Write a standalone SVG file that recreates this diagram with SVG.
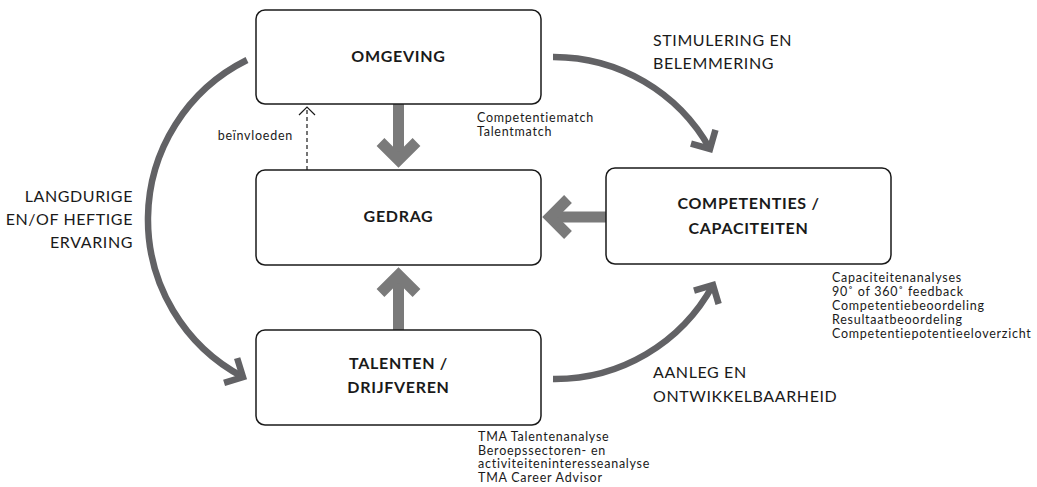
<svg xmlns="http://www.w3.org/2000/svg" width="1037" height="487" viewBox="0 0 1037 487">
<style>
.box{fill:#fff;stroke:#1a1a1a;stroke-width:1.5}
.lbl{font-family:Lato,"Open Sans",sans-serif;font-weight:bold;font-size:16px;fill:#1a1a1a;text-anchor:middle;letter-spacing:0.7px}
.big{font-family:Lato,"Open Sans",sans-serif;font-size:16px;fill:#1a1a1a;letter-spacing:0.6px}
.sm{font-family:Lato,"Open Sans",sans-serif;font-size:12.5px;fill:#1a1a1a;letter-spacing:0.75px}
.thick{fill:none;stroke:#7a7a7a;stroke-width:11}
.chev{fill:none;stroke:#7a7a7a;stroke-width:11;stroke-linejoin:miter}
.arc{fill:none;stroke:#626265;stroke-width:6.5;marker-end:url(#ah)}
</style>
<defs>
<marker id="ah" markerUnits="userSpaceOnUse" viewBox="-30 -30 60 60" refX="0" refY="0" markerWidth="60" markerHeight="60" orient="auto" overflow="visible">
<polyline points="-14,-14 0,0 -14,14" fill="none" stroke="#626265" stroke-width="6.5" stroke-linejoin="miter"/>
</marker>
</defs>
<g id="connectors">
<path class="arc" d="M247,60 A178,178 0 0 0 243,377"/>
<path class="arc" d="M553,57 A179,179 0 0 1 710,149"/>
<path class="arc" d="M553,379 A180,180 0 0 0 713,285"/>
<line class="thick" x1="398.5" y1="104" x2="398.5" y2="158"/>
<polyline class="chev" points="380.5,142 398.5,160 416.5,142"/>
<line class="thick" x1="398.5" y1="330" x2="398.5" y2="277"/>
<polyline class="chev" points="380.5,293 398.5,275 416.5,293"/>
<line class="thick" x1="606" y1="217" x2="552" y2="217"/>
<polyline class="chev" points="568,199 550,217 568,235"/>
<line x1="307" y1="170" x2="307" y2="108" stroke="#1a1a1a" stroke-width="1.2" stroke-dasharray="4,3"/>
<polyline points="299,115 307,107 315,115" fill="none" stroke="#1a1a1a" stroke-width="1.2"/>
<text class="sm" x="293" y="140" text-anchor="end">beïnvloeden</text>
<text class="big" x="653" y="46">STIMULERING EN</text>
<text class="big" x="653" y="69">BELEMMERING</text>
<text class="big" x="133" y="202" text-anchor="end">LANGDURIGE</text>
<text class="big" x="133" y="225" text-anchor="end">EN/OF HEFTIGE</text>
<text class="big" x="133" y="248" text-anchor="end">ERVARING</text>
<text class="big" x="653" y="378">AANLEG EN</text>
<text class="big" x="653" y="402">ONTWIKKELBAARHEID</text>
</g>
<g id="omgeving">
<rect class="box" x="256" y="10" width="285" height="94" rx="9"/>
<text class="lbl" x="398.5" y="62">OMGEVING</text>
<text class="sm" x="477" y="122">Competentiematch</text>
<text class="sm" x="477" y="136">Talentmatch</text>
</g>
<g id="gedrag">
<rect class="box" x="256" y="170" width="285" height="95" rx="9"/>
<text class="lbl" x="398.5" y="222">GEDRAG</text>
</g>
<g id="competenties">
<rect class="box" x="606" y="168" width="285" height="96" rx="9"/>
<text class="lbl" x="748.5" y="209">COMPETENTIES /</text>
<text class="lbl" x="748.5" y="234">CAPACITEITEN</text>
<text class="sm" x="832" y="282">Capaciteitenanalyses</text>
<text class="sm" x="832" y="296">90˚ of 360˚ feedback</text>
<text class="sm" x="832" y="310">Competentiebeoordeling</text>
<text class="sm" x="832" y="324">Resultaatbeoordeling</text>
<text class="sm" x="832" y="338">Competentiepotentieeloverzicht</text>
</g>
<g id="talenten">
<rect class="box" x="256" y="330" width="285" height="95" rx="9"/>
<text class="lbl" x="398.5" y="369">TALENTEN /</text>
<text class="lbl" x="398.5" y="393">DRIJFVEREN</text>
<text class="sm" x="478" y="441">TMA Talentenanalyse</text>
<text class="sm" x="478" y="455">Beroepssectoren- en</text>
<text class="sm" x="478" y="468">activiteiteninteresseanalyse</text>
<text class="sm" x="478" y="482">TMA Career Advisor</text>
</g>
</svg>
